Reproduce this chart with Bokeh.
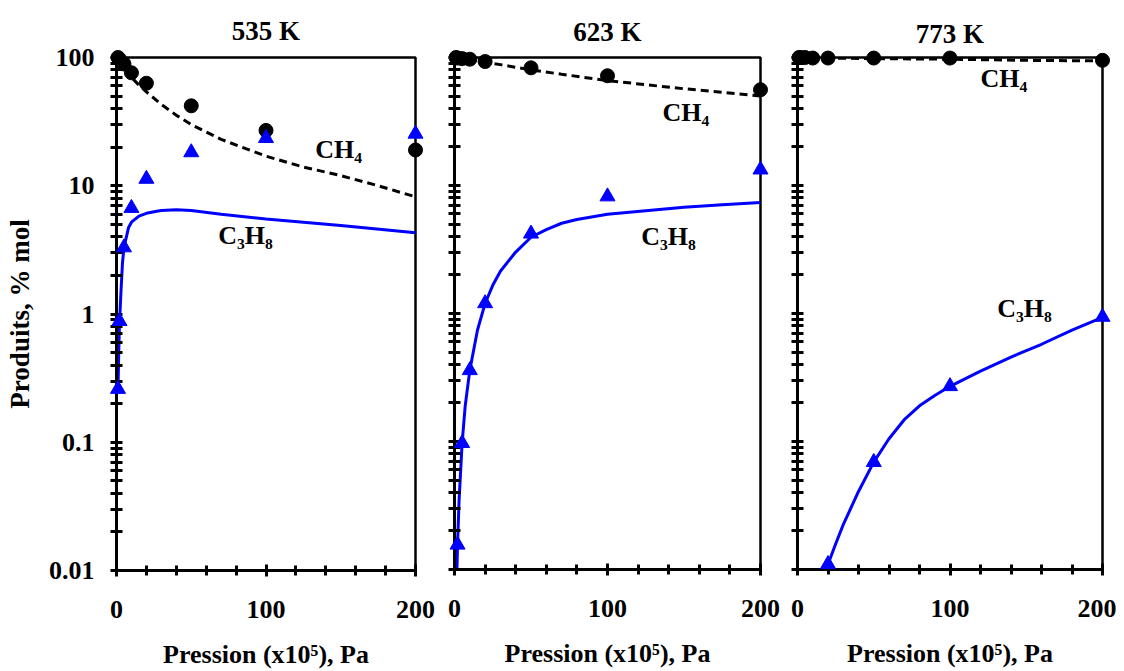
from bokeh.plotting import figure
from bokeh.layouts import row
from bokeh.models import Range1d, FixedTicker, CustomJSTickFormatter
from bokeh.core.properties import value
from bokeh.embed import file_html
from bokeh.resources import INLINE

# ---------------- data ----------------
titles = ["535 K", "623 K", "773 K"]
x_label = "Pression (x10⁵), Pa"
y_label = "Produits, % mol"
y_ticks = [0.01, 0.1, 1, 10, 100]
x_ticks = [0, 100, 200]
x_minor = [0, 20, 40, 60, 80, 100, 120, 140, 160, 180, 200]

# measured points (Pression x1e5 Pa, % mol)
p_ch4_535 = [1, 2, 5, 10, 20, 50, 100, 200]
ch4_535 = [100, 97, 89, 76, 63, 42, 27, 19]
p_c3h8_535 = [1, 2, 5, 10, 20, 50, 100, 200]
c3h8_535 = [0.26, 0.88, 3.3, 6.7, 11.3, 18.2, 23.5, 25.4]

p_ch4_623 = [1, 2, 5, 10, 20, 50, 100, 200]
ch4_623 = [100, 99, 98, 97, 93, 83, 72, 56]
p_c3h8_623 = [2, 5, 10, 20, 50, 100, 200]
c3h8_623 = [0.0156, 0.097, 0.36, 1.2, 4.2, 8.2, 13.3]

p_ch4_773 = [1, 2, 5, 10, 20, 50, 100, 200]
ch4_773 = [100, 100, 100, 99, 99, 99, 99, 95]
p_c3h8_773 = [20, 50, 100, 200]
c3h8_773 = [0.011, 0.069, 0.27, 0.94]

# model curves
pm_ch4_535 = [1, 2, 3, 5, 7, 10, 15, 20, 30, 40, 50, 70, 100, 125, 150, 175, 200]
m_ch4_535 = [99, 95, 91, 84, 77, 70, 61, 54, 43, 35.5, 30, 23, 17, 14, 12, 10, 8.2]
pm_c3h8_535 = [1, 1.5, 2, 3, 4, 5, 8, 10, 15, 20, 26, 30, 40, 50, 70, 100, 150, 200]
m_c3h8_535 = [0.26, 0.5, 0.85, 1.5, 2.5, 3.3, 4.7, 5.2, 5.8, 6.1, 6.3, 6.4, 6.5, 6.4,
              6.0, 5.5, 4.9, 4.3]

pm_ch4_623 = [1, 2, 5, 10, 20, 30, 50, 70, 100, 150, 200]
m_ch4_623 = [100, 99, 98, 96, 92, 88, 80, 74, 66, 57, 50]
pm_c3h8_623 = [1, 2, 3, 5, 7, 10, 15, 20, 25, 30, 40, 50, 60, 70, 80, 100, 125, 150, 175, 200]
m_c3h8_623 = [0.005, 0.0158, 0.035, 0.098, 0.19, 0.36, 0.74, 1.2, 1.66, 2.14, 3.02, 3.94,
              4.52, 5.07, 5.43, 5.96, 6.35, 6.76, 7.08, 7.36]

pm_ch4_773 = [1, 2, 5, 10, 20, 50, 100, 150, 200]
m_ch4_773 = [100, 100, 100, 99.5, 99, 98, 97, 95, 94]
pm_c3h8_773 = [17, 20, 25, 30, 40, 50, 60, 70, 80, 90, 100, 120, 140, 160, 180, 200]
m_c3h8_773 = [0.0089, 0.011, 0.0158, 0.0224, 0.0407, 0.069, 0.105, 0.148, 0.19, 0.229,
              0.27, 0.355, 0.457, 0.575, 0.741, 0.933]

# --------------- drawing ---------------
FONT = "Liberation Serif"
BLUE = "#0000FF"
y_minor = [m * 10.0 ** e for e in range(-2, 2) for m in range(2, 10)]


def make_panel(title, title_standoff, frame_w, frame_h, mb_left, mb_right, mb_top,
               mb_bottom, show_y, pch, ych, pc3, yc3, pmch, ymch, pmc3, ymc3,
               lab_ch4, lab_c3h8):
    p = figure(frame_width=frame_w, frame_height=frame_h, x_range=Range1d(0, 200),
               y_range=Range1d(0.01, 100), y_axis_type="log",
               output_backend="svg", toolbar_location=None,
               min_border_left=mb_left, min_border_right=mb_right,
               min_border_top=mb_top, min_border_bottom=mb_bottom,
               background_fill_color="white", border_fill_color="white")
    p.grid.visible = False
    p.outline_line_color = "black"
    p.outline_line_width = 2.5

    p.title.text = title
    p.title.align = "center"
    p.title.offset = 8
    p.title.standoff = title_standoff
    p.title.text_font = FONT
    p.title.text_font_size = "27px"
    p.title.text_font_style = "bold"
    p.title.text_color = "black"

    for ax in (p.xaxis[0], p.yaxis[0]):
        ax.axis_line_width = 3
        ax.axis_line_color = "black"
        ax.major_tick_line_width = 3
        ax.minor_tick_line_width = 3
        ax.major_tick_line_color = "black"
        ax.minor_tick_line_color = "black"
        ax.major_tick_in = 6
        ax.major_tick_out = 6
        ax.minor_tick_in = 6
        ax.minor_tick_out = 6
        ax.major_label_text_font = FONT
        ax.major_label_text_font_size = "26px"
        ax.major_label_text_font_style = "bold"
        ax.major_label_text_color = "black"
        ax.axis_label_text_font = FONT
        ax.axis_label_text_font_style = "bold"
        ax.axis_label_text_color = "black"

    xa = p.xaxis[0]
    xa.ticker = FixedTicker(ticks=x_ticks, minor_ticks=x_minor)
    xa.minor_tick_in = 5
    xa.minor_tick_out = 5
    xa.major_label_standoff = 24
    xa.axis_label = x_label
    xa.axis_label_text_font_size = "26px"
    xa.axis_label_standoff = 19

    ya = p.yaxis[0]
    ya.ticker = FixedTicker(ticks=y_ticks, minor_ticks=y_minor)
    if show_y:
        ya.formatter = CustomJSTickFormatter(code="return String(tick)")
        ya.major_label_standoff = 16
        ya.axis_label = y_label
        ya.axis_label_text_font_size = "27px"
        ya.axis_label_standoff = 11
    else:
        ya.formatter = CustomJSTickFormatter(code="return ''")
        ya.major_label_standoff = 2

    # model curves
    p.line(pmch, ymch, line_color="black", line_width=3, line_dash="8 5")
    p.line(pmc3, ymc3, line_color=BLUE, line_width=3)

    # measurements
    p.scatter(pch, ych, marker="circle", size=14, color="black", level="overlay")
    p.scatter(pc3, yc3, marker="triangle", size=15, color=BLUE, level="overlay")

    # species labels
    p.text(x=[lab_ch4[0]], y=[lab_ch4[1]], text=["CH₄"],
           text_font=value(FONT), text_font_size="26px", text_font_style="bold",
           text_color="black", text_align="left", text_baseline="middle")
    p.text(x=[lab_c3h8[0]], y=[lab_c3h8[1]], text=["C₃H₈"],
           text_font=value(FONT), text_font_size="26px", text_font_style="bold",
           text_color="black", text_align="left", text_baseline="middle")
    return p


p1 = make_panel(titles[0], 23, 299, 513, 116, 20, 57, 101, True,
                p_ch4_535, ch4_535, p_c3h8_535, c3h8_535,
                pm_ch4_535, m_ch4_535, pm_c3h8_535, m_c3h8_535,
                (133, 19), (68, 4.1))
p2 = make_panel(titles[1], 21, 306, 512, 19, 20, 56, 103, False,
                p_ch4_623, ch4_623, p_c3h8_623, c3h8_623,
                pm_ch4_623, m_ch4_623, pm_c3h8_623, m_c3h8_623,
                (136, 37), (122, 4.0))
p3 = make_panel(titles[2], 18, 305, 512, 17, 14, 52, 107, False,
                p_ch4_773, ch4_773, p_c3h8_773, c3h8_773,
                pm_ch4_773, m_ch4_773, pm_c3h8_773, m_c3h8_773,
                (120, 68), (131, 1.1))

layout = row(p1, p2, p3, spacing=0)
open("out.html", "w").write(file_html(layout, INLINE))
